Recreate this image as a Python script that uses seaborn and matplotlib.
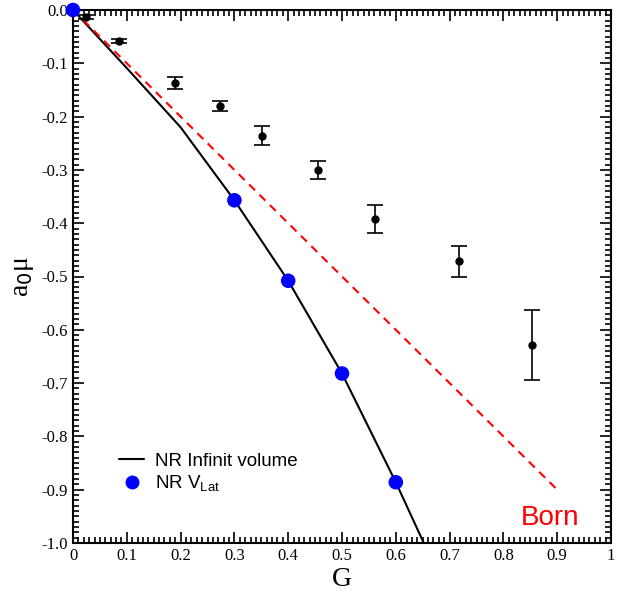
import matplotlib
matplotlib.use("Agg")
import matplotlib.pyplot as plt
import seaborn as sns
import numpy as np
import pandas as pd
from matplotlib.ticker import MultipleLocator, FormatStrFormatter
from matplotlib.lines import Line2D

# Data
lat_G = [0.024, 0.0855, 0.19, 0.273, 0.351, 0.455, 0.561, 0.717, 0.853]
lat_mu = [-0.013, -0.058, -0.137, -0.180, -0.236, -0.300, -0.392, -0.471, -0.628]
lat_err = [0.003, 0.003, 0.011, 0.009, 0.018, 0.017, 0.026, 0.029, 0.066]

nr_inf_G = [0.0, 0.1, 0.2, 0.3, 0.4, 0.5, 0.6, 0.652]
nr_inf_mu = [0.0, -0.109, -0.220, -0.357, -0.508, -0.682, -0.886, -1.0]

nr_lat_G = [0.0, 0.3, 0.4, 0.5, 0.6]
nr_lat_mu = [0.0, -0.357, -0.508, -0.682, -0.886]

born_G = [0.0, 0.9]
born_mu = [0.0, -0.9]

sns.set_style("ticks")
plt.rcParams['font.family'] = ['Liberation Serif', 'DejaVu Serif']
plt.rcParams.update({'text.color': 'black', 'axes.labelcolor': 'black',
                     'xtick.color': 'black', 'ytick.color': 'black',
                     'axes.edgecolor': 'black'})

fig = plt.figure(figsize=(6.22, 5.93), dpi=100)
ax = fig.add_axes([73/622, 1-543/593, (611-73)/622, (543-10)/593])

sns.lineplot(x=nr_inf_G, y=nr_inf_mu, ax=ax, color='black', lw=1.5, sort=False, zorder=2)
sns.lineplot(x=born_G, y=born_mu, ax=ax, color='red', lw=1.5, linestyle=(0, (4, 3)), zorder=3)
ax.errorbar(lat_G, lat_mu, yerr=lat_err, fmt='o', color='black', ms=5, capsize=6, elinewidth=1.2, capthick=1.2, zorder=4)
sns.scatterplot(x=nr_lat_G, y=nr_lat_mu, ax=ax, color='blue', s=110, edgecolor='none', zorder=5, clip_on=False)

ax.set_xlim(0, 1)
ax.set_ylim(-1.0, 0.0)
ax.xaxis.set_major_locator(MultipleLocator(0.1))
ax.xaxis.set_minor_locator(MultipleLocator(0.01))
ax.yaxis.set_major_locator(MultipleLocator(0.1))
ax.yaxis.set_minor_locator(MultipleLocator(0.01))
ax.yaxis.set_major_formatter(FormatStrFormatter('%.1f'))
ax.set_xticks(np.arange(0, 1.01, 0.1))
ax.set_xticklabels(['0', '0.1', '0.2', '0.3', '0.4', '0.5', '0.6', '0.7', '0.8', '0.9', '1'])
ax.tick_params(which='both', direction='in', top=True, right=True, labelsize=12, width=1.2,
               color='black', labelcolor='black')
ax.tick_params(which='major', length=8)
ax.tick_params(which='minor', length=4)
for s in ax.spines.values():
    s.set_linewidth(1.5)
    s.set_visible(True)
    s.set_color('black')

ax.set_xlabel('G', fontsize=20, labelpad=2, color='black')
ax.set_ylabel(r'a$_0$$\mathregular{\mu}$', fontsize=20, labelpad=4, color='black')

ax.text(0.887, -0.953, 'Born', color='red', fontsize=20, family=['Liberation Sans'], ha='center', va='center')

handles = [Line2D([0], [0], color='black', lw=1.5),
           Line2D([0], [0], marker='o', color='blue', ls='none', ms=9)]
labels = ['NR Infinit volume', r'NR V$_{\mathregular{Lat}}$']
leg = ax.legend(handles, labels, loc='lower left', bbox_to_anchor=(0.055, 0.061), frameon=False,
                prop={'family': 'Liberation Sans', 'size': 13.5}, handlelength=1.3, handletextpad=0.6,
                labelspacing=0.2, labelcolor='black')

fig.savefig('out.png', dpi=100)
